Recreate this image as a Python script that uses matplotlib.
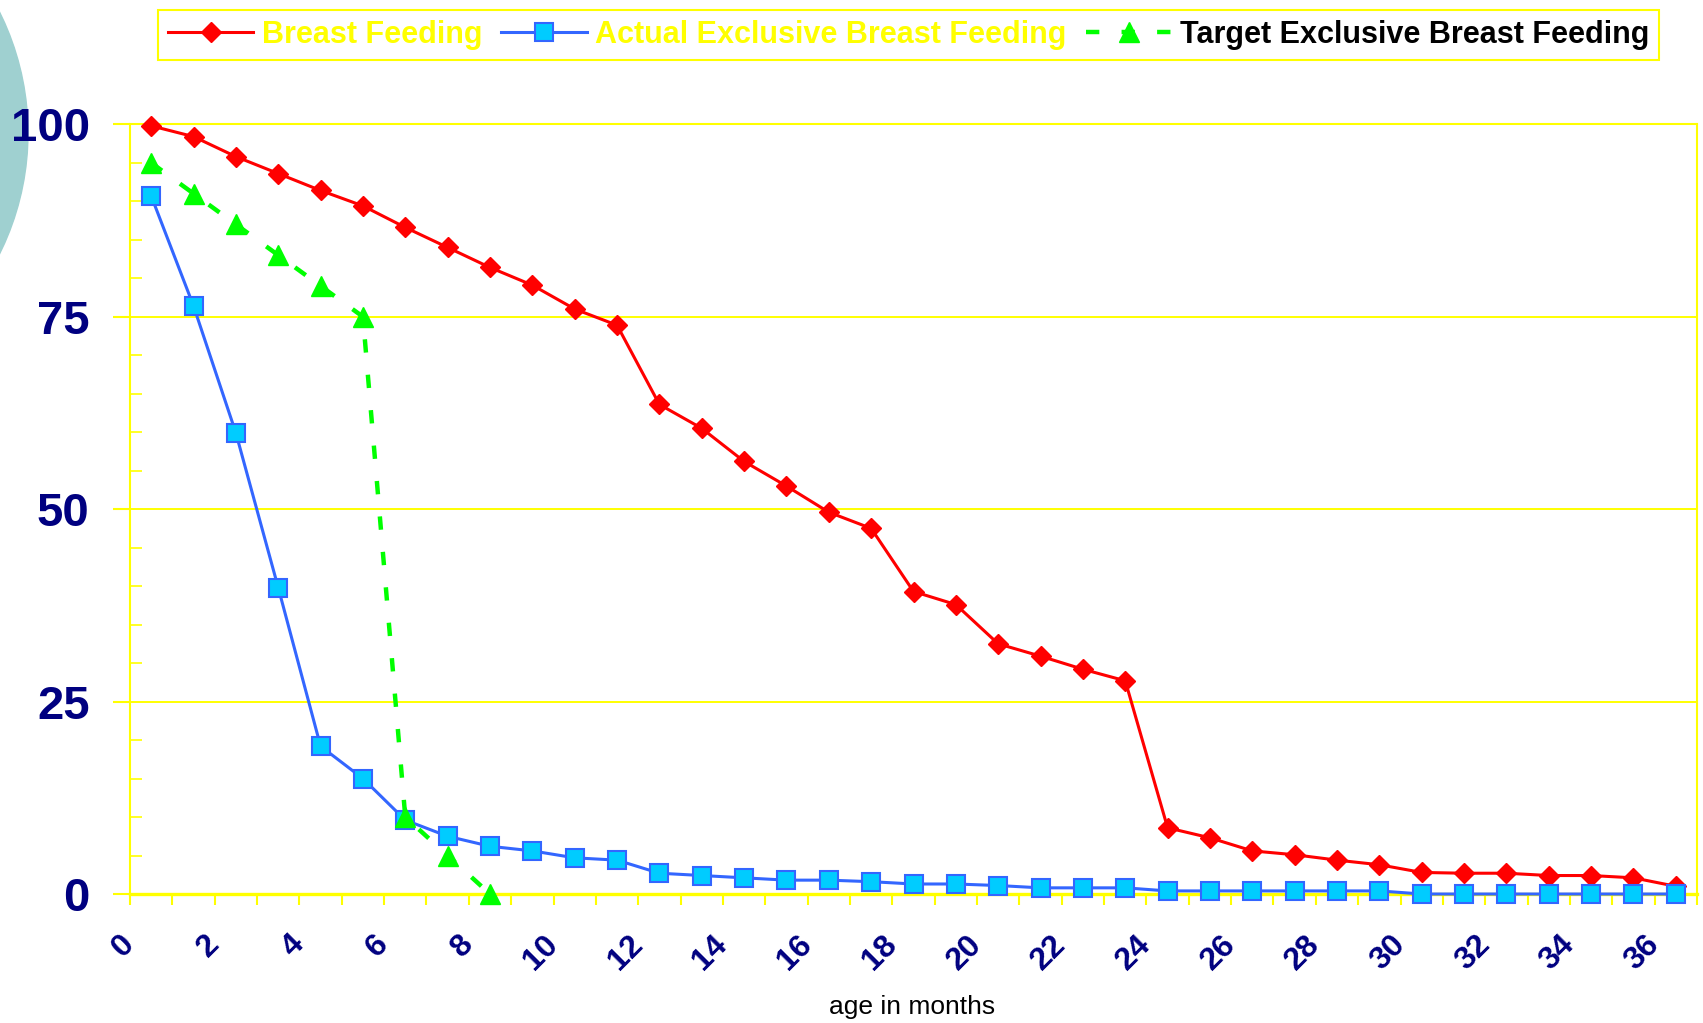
import numpy as np
import matplotlib.pyplot as plt
from matplotlib.patches import Ellipse
from matplotlib.ticker import MultipleLocator

plt.rcParams['font.family'] = 'Liberation Sans'

# values, one point per month (plotted at the category centre)
bf = [99.8, 98.4, 95.8, 93.6, 91.4, 89.4, 86.6, 84.0, 81.4, 79.1, 76.0, 73.9,
      63.6, 60.5, 56.2, 53.0, 49.6, 47.5, 39.3, 37.6, 32.5, 30.9, 29.2, 27.7,
      8.6, 7.3, 5.6, 5.1, 4.4, 3.8, 2.8, 2.7, 2.7, 2.4, 2.4, 2.1, 1.0]
ebf = [90.7, 76.4, 59.9, 39.8, 19.2, 15.0, 9.6, 7.5, 6.2, 5.6, 4.7, 4.4,
       2.7, 2.4, 2.1, 1.8, 1.8, 1.6, 1.3, 1.3, 1.1, 0.8, 0.8, 0.8,
       0.4, 0.4, 0.4, 0.4, 0.4, 0.4, 0, 0, 0, 0, 0, 0, 0]
target = [95, 91, 87, 83, 79, 75, 10, 5, 0]
months = np.arange(len(bf)) + 0.5
target_months = np.arange(len(target)) + 0.5

labels = ['Breast Feeding', 'Actual Exclusive Breast Feeding', 'Target Exclusive Breast Feeding']
label_colors = ['#FFFF00', '#FFFF00', 'black']
navy = '#000080'
yellow = '#FFFF00'

fig = plt.figure(figsize=(17.03, 10.23), dpi=100)
ax = fig.add_axes([130/1703, 129/1023, 1567/1703, 769.7/1023])

# teal circle from the slide background
fig.add_artist(Ellipse((-243/1703, 1-133/1023), 542/1703, 542/1023,
                       transform=fig.transFigure, color='#9fd0d0', zorder=-1))

ax.plot(months, bf, '-D', color='#FF0000', lw=2.2, ms=10.5, label=labels[0],
        clip_on=False, zorder=4)
ax.plot(months, ebf, '-s', color='#3366FF', mfc='#00CCFF', mec='#3366FF', mew=1.5,
        lw=2.2, ms=12.5, label=labels[1], clip_on=False, zorder=5)
ax.plot(target_months, target, '^', ls=(0, (3, 5)), color='#00FF00', lw=3.2,
        ms=15, label=labels[2], clip_on=False, zorder=6)

ax.set_xlim(0, 37)
ax.set_ylim(0, 100)

ax.set_xticks(range(38))
ax.set_xticklabels([str(i) if i % 2 == 0 and i <= 36 else '' for i in range(38)],
                   rotation=45, ha='right', va='center', rotation_mode='anchor',
                   fontsize=23, fontweight='bold', color=navy)
ax.tick_params(axis='x', direction='out', length=8, width=1.5, color=yellow, pad=25)

ax.set_yticks([0, 25, 50, 75, 100])
ax.set_yticklabels(['0', '25', '50', '75', '100'], fontsize=34, fontweight='bold', color=navy)
ax.yaxis.set_minor_locator(MultipleLocator(5))
ax.tick_params(axis='y', which='major', direction='out', length=12, width=1.5,
               color=yellow, pad=17)
ax.tick_params(axis='y', which='minor', direction='in', length=8.5, width=1.2, color=yellow)

ax.yaxis.grid(True, color=yellow, lw=1.4)
ax.set_axisbelow(True)
for side in ['left', 'right', 'top']:
    ax.spines[side].set_color(yellow)
    ax.spines[side].set_linewidth(1.5)
ax.spines['bottom'].set_color(yellow)
ax.spines['bottom'].set_linewidth(2.4)

fig.text(912/1703, 1-1007/1023, 'age in months', ha='center', va='center', fontsize=19)

leg = ax.legend(loc='upper left', bbox_to_anchor=(158/1703, 1-10/1023),
                bbox_transform=fig.transFigure, ncol=3, fancybox=False, framealpha=1,
                edgecolor=yellow, borderaxespad=0, borderpad=0.32, handlelength=2.8,
                handletextpad=0.28, columnspacing=0.62, numpoints=1,
                prop={'size': 22, 'weight': 'bold'})
leg.get_frame().set_linewidth(1.5)
for txt, c in zip(leg.get_texts(), label_colors):
    txt.set_color(c)

plt.savefig('out.png', dpi=100)
